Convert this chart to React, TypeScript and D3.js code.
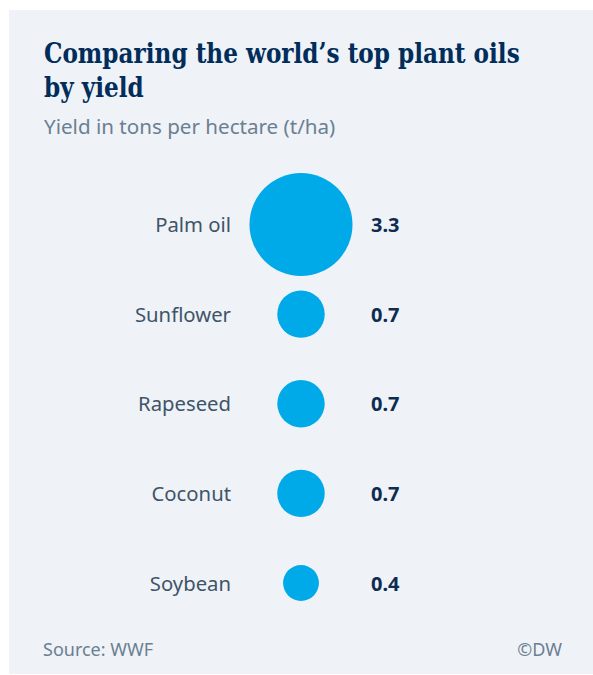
import React, { useEffect, useRef } from "react";
import * as d3 from "d3";

const categories: string[] = ["Palm oil", "Sunflower", "Rapeseed", "Coconut", "Soybean"];
const values: number[] = [3.3, 0.7, 0.7, 0.7, 0.4];

const titleLines: string[] = ["Comparing the world’s top plant oils", "by yield"];
const subtitle = "Yield in tons per hectare (t/ha)";
const sourceText = "Source: WWF";
const creditText = "©DW";

const W = 593;
const H = 675;

export default function App() {
  const ref = useRef<SVGSVGElement | null>(null);

  useEffect(() => {
    document.body.style.margin = "0";
    const svg = d3.select(ref.current);
    svg.selectAll("*").remove();

    svg.append("rect").attr("x", 0).attr("y", 0).attr("width", W).attr("height", H).attr("fill", "#ffffff");
    svg.append("rect").attr("x", 9).attr("y", 10).attr("width", W - 9).attr("height", 664).attr("fill", "#eff2f7");

    // Title: serif bold, horizontally condensed to match the reference width
    const titleTarget = 476;
    const line0 = svg
      .append("text")
      .attr("font-family", "'DejaVu Serif', serif")
      .attr("font-weight", 700)
      .attr("font-size", 27)
      .attr("fill", "#002d5a")
      .text(titleLines[0]);
    const natural = (line0.node() as SVGTextElement).getComputedTextLength() || titleTarget;
    const sx = Math.min(1, titleTarget / natural);
    line0.remove();

    titleLines.forEach((t, i) => {
      svg
        .append("text")
        .attr("transform", `translate(44,${63 + i * 34}) scale(${sx},1)`)
        .attr("font-family", "'DejaVu Serif', serif")
        .attr("font-weight", 700)
        .attr("font-size", 27)
        .attr("fill", "#002d5a")
        .text(t);
    });

    svg
      .append("text")
      .attr("x", 44)
      .attr("y", 134)
      .attr("font-family", "'Noto Sans', sans-serif")
      .attr("font-size", 20.6)
      .attr("fill", "#6b7f92")
      .text(subtitle);

    const y = d3.scalePoint<string>().domain(categories).range([224.5, 583]);
    const r = d3.scaleSqrt().domain([0, d3.max(values) as number]).range([0, 51.5]);
    const fmt = d3.format(".1f");
    const cx = 301;

    const rows = svg
      .append("g")
      .selectAll("g")
      .data(categories.map((c, i) => ({ c, v: values[i] })))
      .join("g")
      .attr("transform", (d) => `translate(0,${y(d.c)})`);

    rows
      .append("circle")
      .attr("cx", cx)
      .attr("cy", 0)
      .attr("r", (d) => r(d.v))
      .attr("fill", "#00a9e8");

    rows
      .append("text")
      .attr("x", 231)
      .attr("y", 7.5)
      .attr("text-anchor", "end")
      .attr("font-family", "'Noto Sans', sans-serif")
      .attr("font-size", 20.3)
      .attr("fill", "#3f5468")
      .text((d) => d.c);

    rows
      .append("text")
      .attr("x", 371)
      .attr("y", 7.5)
      .attr("font-family", "'Noto Sans', sans-serif")
      .attr("font-weight", 700)
      .attr("font-size", 20)
      .attr("fill", "#0d2c50")
      .text((d) => fmt(d.v));

    svg
      .append("text")
      .attr("x", 43)
      .attr("y", 656)
      .attr("font-family", "'Noto Sans', sans-serif")
      .attr("font-size", 18)
      .attr("fill", "#6b7f92")
      .text(sourceText);

    svg
      .append("text")
      .attr("x", 562)
      .attr("y", 656)
      .attr("text-anchor", "end")
      .attr("font-family", "'Noto Sans', sans-serif")
      .attr("font-size", 18)
      .attr("fill", "#6b7f92")
      .text(creditText);
  }, []);

  return (
    <div style={{ position: "absolute", left: 0, top: 0 }}>
      <svg ref={ref} width={W} height={H} style={{ display: "block" }} />
    </div>
  );
}
